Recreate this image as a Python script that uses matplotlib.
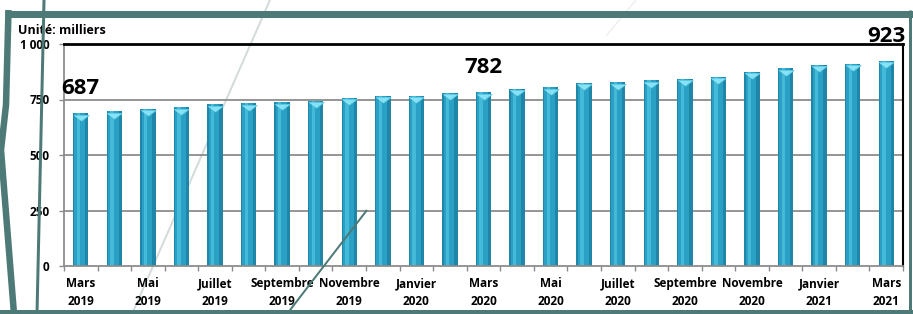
import matplotlib.pyplot as plt
from matplotlib.lines import Line2D
from matplotlib.patches import Rectangle
from matplotlib.transforms import ScaledTranslation

plt.rcParams['font.family'] = ['Open Sans', 'DejaVu Sans']

months = ['Mars', 'Avril', 'Mai', 'Juin', 'Juillet', 'Août', 'Septembre', 'Octobre',
          'Novembre', 'Décembre', 'Janvier', 'Février', 'Mars', 'Avril', 'Mai', 'Juin',
          'Juillet', 'Août', 'Septembre', 'Octobre', 'Novembre', 'Décembre', 'Janvier',
          'Février', 'Mars']
years = ['2019'] * 10 + ['2020'] * 12 + ['2021'] * 3
values = [687, 696, 707, 714, 728, 732, 737, 745, 757, 766, 766, 779, 782,
          797, 805, 824, 828, 837, 842, 851, 874, 890, 905, 910, 923]
labelled = {0: '687', 12: '782', 24: '923'}
yticks = [0, 250, 500, 750, 1000]
ytick_labels = ['0', '250', '500', '750', '1 000']

W, H = 913, 314
fig = plt.figure(figsize=(W / 100, H / 100), dpi=100)


def px(x, y):
    return x / W, 1 - y / H


def deco(pts, color, lw, z):
    # lw given in pixels
    xs, ys = zip(*[px(a, b) for a, b in pts])
    fig.add_artist(Line2D(xs, ys, color=color, lw=lw * 0.72, zorder=z,
                          transform=fig.transFigure, solid_capstyle='butt',
                          solid_joinstyle='round'))


teal = '#4d7a77'
# white slide area and light background strokes
x0, y0 = px(8, 311)
x1, y1 = px(910, 14)
fig.add_artist(Rectangle((x0, y0), x1 - x0, y1 - y0, transform=fig.transFigure,
                         facecolor='white', edgecolor='none', zorder=-3))
deco([(270, 0), (132, 314)], '#d3dbdb', 2, -2)
deco([(636, 0), (606, 36)], '#eef0f0', 1.5, -2)

ax = fig.add_axes([64 / W, 1 - 266 / H, (903 - 64) / W, (266 - 44) / H])
ax.set_facecolor('none')
ax.set_zorder(0)

x = list(range(len(values)))
ax.bar(x, values, width=0.46, color='#1f86a8', zorder=2)
ax.bar([i - 0.03 for i in x], values, width=0.32, color='#2aa0c4', zorder=2.1)
ax.bar([i - 0.07 for i in x], values, width=0.1, color='#45b9d8', zorder=2.2)
cap = [(-1, 0), (1, 0), (0, -0.75)]
shift = ax.transData + ScaledTranslation(0, -1 / 72, fig.dpi_scale_trans)
ax.plot(x, values, ls='none', marker=cap, markersize=11, color='#86e2f4',
        markeredgecolor='#5fcbe4', markeredgewidth=0.6, transform=shift, zorder=3)

for i, txt in labelled.items():
    ax.annotate(txt, (i, values[i]), xytext=(0, 14), textcoords='offset points',
                ha='center', va='baseline', fontsize=16, fontweight='bold',
                color='black', annotation_clip=False, zorder=5)

ax.set_xlim(-0.5, len(values) - 0.5)
ax.set_ylim(0, 1000)
for v in yticks[1:-1]:
    ax.axhline(v, color='#8c8c8c', lw=1.3, zorder=1)
ax.axhline(1000, color='black', lw=2, zorder=4, clip_on=False)

ax.set_yticks(yticks)
ax.set_yticklabels(ytick_labels, fontsize=8.5, fontweight='bold')
ax.tick_params(axis='y', length=3.5, width=1, color='#8c8c8c', pad=7)

ax.set_xticks(x[::2])
ax.set_xticklabels([f'{months[i]}\n{years[i]}' for i in x[::2]],
                   fontsize=8.5, fontweight='bold', linespacing=1.5)
ax.set_xticks([i - 0.5 for i in range(len(values) + 1)], minor=True)
ax.tick_params(axis='x', which='major', length=0, pad=8)
ax.tick_params(axis='x', which='minor', length=3.5, width=1, color='#8c8c8c')

for side in ['left', 'bottom']:
    ax.spines[side].set_color('#8c8c8c')
    ax.spines[side].set_linewidth(1.3)
ax.spines['top'].set_visible(False)
ax.spines['right'].set_color('black')
ax.spines['right'].set_linewidth(1.5)

fig.text(18 / W, 1 - 30 / H, 'Unité: milliers', fontsize=9, fontweight='bold',
         ha='left', va='center')

# teal frame pieces and strokes on top
deco([(5, 13.5), (913, 13.5)], teal, 7, 6)
deco([(0, 312), (913, 312)], teal, 4, 6)
deco([(909.5, 10), (909.5, 314)], teal, 3, 6)
deco([(8.5, 10), (6, 105), (1, 150), (14, 314)], teal, 6.5, 6)
deco([(44, 0), (37, 314)], teal, 3, 6)
deco([(367, 210), (287, 314)], teal, 2, 6)

fig.savefig('out.png', dpi=100)
